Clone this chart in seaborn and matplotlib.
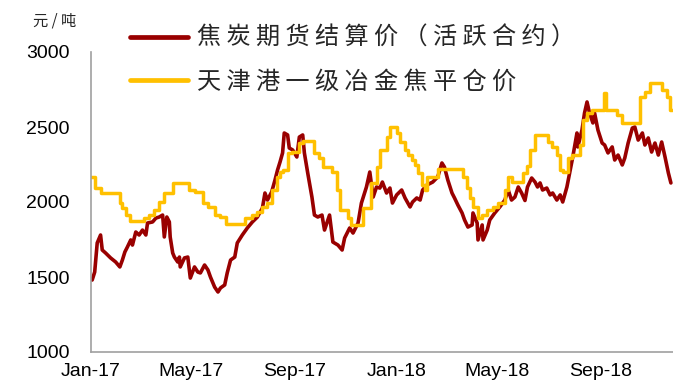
import pandas as pd
import matplotlib
matplotlib.use("Agg")
import matplotlib.pyplot as plt
import matplotlib.dates as mdates
import seaborn as sns

# 焦炭期货结算价（活跃合约），元/吨
futures_dates = [
    "2017-01-03", "2017-01-06", "2017-01-09", "2017-01-13", "2017-01-15", "2017-01-19",
    "2017-01-25", "2017-01-31", "2017-02-05", "2017-02-08", "2017-02-11", "2017-02-14",
    "2017-02-18", "2017-02-20", "2017-02-24", "2017-02-28", "2017-03-04", "2017-03-08",
    "2017-03-10", "2017-03-16", "2017-03-20", "2017-03-24", "2017-03-28", "2017-03-30",
    "2017-04-02", "2017-04-05", "2017-04-06", "2017-04-09", "2017-04-11", "2017-04-15",
    "2017-04-17", "2017-04-18", "2017-04-23", "2017-04-27", "2017-04-30", "2017-05-05",
    "2017-05-09", "2017-05-12", "2017-05-17", "2017-05-21", "2017-05-24", "2017-05-29",
    "2017-06-02", "2017-06-05", "2017-06-10", "2017-06-13", "2017-06-17", "2017-06-22",
    "2017-06-25", "2017-07-01", "2017-07-07", "2017-07-13", "2017-07-19", "2017-07-25",
    "2017-07-28", "2017-07-31", "2017-08-05", "2017-08-09", "2017-08-12", "2017-08-15",
    "2017-08-18", "2017-08-20", "2017-08-24", "2017-08-26", "2017-08-30", "2017-09-04",
    "2017-09-07", "2017-09-11", "2017-09-13", "2017-09-17", "2017-09-22", "2017-09-25",
    "2017-09-29", "2017-10-04", "2017-10-07", "2017-10-13", "2017-10-17", "2017-10-23",
    "2017-10-28", "2017-10-31", "2017-11-06", "2017-11-10", "2017-11-16", "2017-11-20",
    "2017-11-26", "2017-11-30", "2017-12-04", "2017-12-08", "2017-12-12", "2017-12-15",
    "2017-12-20", "2017-12-24", "2017-12-27", "2018-01-01", "2018-01-07", "2018-01-11",
    "2018-01-17", "2018-01-20", "2018-01-25", "2018-01-29", "2018-02-01", "2018-02-06",
    "2018-02-13", "2018-02-19", "2018-02-24", "2018-02-27", "2018-03-03", "2018-03-08",
    "2018-03-11", "2018-03-15", "2018-03-20", "2018-03-23", "2018-03-27", "2018-04-01",
    "2018-04-02", "2018-04-07", "2018-04-08", "2018-04-13", "2018-04-14", "2018-04-19",
    "2018-04-22", "2018-04-28", "2018-05-04", "2018-05-10", "2018-05-14", "2018-05-18",
    "2018-05-22", "2018-05-26", "2018-05-30", "2018-06-03", "2018-06-06", "2018-06-11",
    "2018-06-15", "2018-06-18", "2018-06-21", "2018-06-24", "2018-06-29", "2018-07-03",
    "2018-07-06", "2018-07-11", "2018-07-15", "2018-07-18", "2018-07-23", "2018-07-27",
    "2018-07-30", "2018-08-04", "2018-08-05", "2018-08-10", "2018-08-13", "2018-08-16",
    "2018-08-19", "2018-08-23", "2018-08-25", "2018-08-29", "2018-09-03", "2018-09-06",
    "2018-09-10", "2018-09-15", "2018-09-18", "2018-09-22", "2018-09-27", "2018-09-30",
    "2018-10-04", "2018-10-09", "2018-10-12", "2018-10-16", "2018-10-21", "2018-10-24",
    "2018-10-28", "2018-11-01", "2018-11-05", "2018-11-09", "2018-11-13", "2018-11-17",
    "2018-11-21", "2018-11-24",
]
futures_values = [
    1480, 1533, 1727, 1780, 1680, 1660,
    1627, 1600, 1567, 1613, 1667, 1700,
    1747, 1713, 1800, 1780, 1813, 1780,
    1860, 1867, 1893, 1900, 1913, 1767,
    1900, 1867, 1767, 1660, 1633, 1600,
    1633, 1567, 1627, 1633, 1493, 1567,
    1533, 1527, 1580, 1547, 1500, 1433,
    1400, 1427, 1447, 1527, 1613, 1633,
    1727, 1780, 1827, 1867, 1900, 1960,
    2060, 2013, 2067, 2147, 2213, 2267,
    2327, 2460, 2447, 2360, 2347, 2300,
    2433, 2447, 2327, 2193, 2033, 1913,
    1900, 1913, 1813, 1913, 1733, 1713,
    1680, 1760, 1827, 1793, 1860, 1993,
    2100, 2200, 2033, 2100, 2093, 2133,
    2060, 2093, 1993, 2047, 2080, 2027,
    1967, 2000, 2027, 2013, 2080, 2113,
    2133, 2167, 2260, 2233, 2147, 2060,
    2027, 1980, 1927, 1880, 1833, 1847,
    1927, 1860, 1747, 1847, 1747, 1813,
    1880, 1927, 1967, 2013, 2080, 2013,
    2033, 2100, 2060, 2010, 2100, 2160,
    2133, 2100, 2127, 2080, 2093, 2047,
    2060, 2013, 2047, 2000, 2100, 2213,
    2300, 2460, 2367, 2480, 2593, 2667,
    2593, 2527, 2593, 2480, 2393, 2380,
    2327, 2367, 2280, 2313, 2247, 2293,
    2393, 2493, 2500, 2413, 2460, 2380,
    2427, 2333, 2393, 2313, 2400, 2300,
    2193, 2127,
]

# 天津港一级冶金焦平仓价（报价变动日），元/吨
port_dates = [
    "2017-01-01", "2017-01-06", "2017-01-13", "2017-02-05", "2017-02-08", "2017-02-12",
    "2017-02-17", "2017-03-06", "2017-03-12", "2017-03-18", "2017-03-24", "2017-03-30",
    "2017-04-09", "2017-04-29", "2017-05-05", "2017-05-15", "2017-05-21", "2017-05-29",
    "2017-06-04", "2017-06-11", "2017-07-04", "2017-07-12", "2017-07-18", "2017-07-24",
    "2017-07-30", "2017-08-05", "2017-08-11", "2017-08-15", "2017-08-18", "2017-08-24",
    "2017-08-29", "2017-09-07", "2017-09-11", "2017-09-25", "2017-10-01", "2017-10-05",
    "2017-10-16", "2017-10-22", "2017-10-25", "2017-11-04", "2017-11-08", "2017-11-22",
    "2017-12-02", "2017-12-08", "2017-12-12", "2017-12-20", "2017-12-24", "2018-01-01",
    "2018-01-05", "2018-01-11", "2018-01-14", "2018-01-19", "2018-01-23", "2018-01-26",
    "2018-01-31", "2018-02-04", "2018-02-06", "2018-02-19", "2018-03-21", "2018-03-26",
    "2018-03-29", "2018-04-02", "2018-04-08", "2018-04-13", "2018-04-19", "2018-04-26",
    "2018-05-02", "2018-05-10", "2018-05-14", "2018-05-18", "2018-06-01", "2018-06-05",
    "2018-06-09", "2018-06-15", "2018-06-30", "2018-07-05", "2018-07-11", "2018-07-15",
    "2018-07-18", "2018-07-24", "2018-07-29", "2018-08-08", "2018-08-11", "2018-08-16",
    "2018-08-22", "2018-09-05", "2018-09-08", "2018-09-21", "2018-09-27", "2018-10-18",
    "2018-10-24", "2018-10-30", "2018-11-13", "2018-11-19", "2018-11-23", "2018-11-25",
]
port_values = [
    2167, 2093, 2060, 1993, 1960, 1913,
    1873, 1893, 1913, 1947, 2000, 2060,
    2127, 2080, 2067, 1993, 1967, 1913,
    1900, 1853, 1893, 1913, 1933, 1967,
    1993, 2080, 2167, 2200, 2213, 2327,
    2333, 2393, 2407, 2327, 2293, 2233,
    2200, 2080, 1947, 1893, 1847, 1960,
    2127, 2233, 2347, 2433, 2500, 2460,
    2400, 2347, 2313, 2280, 2247, 2193,
    2113, 2080, 2167, 2220, 2167, 2093,
    2027, 1967, 1893, 1913, 1947, 1967,
    1993, 2080, 2167, 2133, 2193, 2240,
    2347, 2447, 2400, 2367, 2313, 2213,
    2200, 2293, 2313, 2380, 2547, 2593,
    2613, 2727, 2613, 2580, 2527, 2700,
    2733, 2793, 2747, 2700, 2613, 2613,
]

series_names = ["焦炭期货结算价（活跃合约）", "天津港一级冶金焦平仓价"]
series_colors = ["#990000", "#FFC000"]
y_ticks = [1000, 1500, 2000, 2500, 3000]
unit_label = "元 / 吨"

futures = pd.DataFrame({"date": pd.to_datetime(futures_dates), "price": futures_values})
port = pd.DataFrame({"date": pd.to_datetime(port_dates), "price": port_values})

sns.set_style("white")
plt.rcParams["font.family"] = ["Liberation Sans", "Noto Sans CJK SC", "DejaVu Sans"]

fig = plt.figure(figsize=(6.73, 3.83), dpi=100)
ax = fig.add_axes([90.5 / 673, 1 - 352 / 383, 1 - 90.5 / 673, 300 / 383])

sns.lineplot(data=futures, x="date", y="price", ax=ax, color=series_colors[0],
             linewidth=2.6, label=series_names[0])
sns.lineplot(data=port, x="date", y="price", ax=ax, color=series_colors[1],
             linewidth=2.5, label=series_names[1], drawstyle="steps-post")

ax.set_xlim(pd.Timestamp("2017-01-01"), pd.Timestamp("2018-11-26 12:00"))
ax.set_ylim(1000, 3000)
ax.set_yticks(y_ticks)
ax.xaxis.set_major_locator(mdates.MonthLocator(bymonth=[1, 5, 9]))
ax.xaxis.set_major_formatter(mdates.DateFormatter("%b-%y"))
ax.set_xlabel("")
ax.set_ylabel("")

for side in ("top", "right"):
    ax.spines[side].set_visible(False)
for side in ("left", "bottom"):
    ax.spines[side].set_color("#A0A0A0")
    ax.spines[side].set_linewidth(1.2)
ax.tick_params(axis="both", which="major", direction="out", length=4,
               width=1.2, color="#A0A0A0", labelsize=14, labelcolor="black")
ax.tick_params(axis="y", pad=11)
ax.tick_params(axis="x", pad=4)

# legend with widened character spacing
leg = ax.legend(loc="upper left", bbox_to_anchor=(130 / 673, 1 - 25 / 383),
                bbox_transform=fig.transFigure, frameon=False, borderpad=0,
                borderaxespad=0, handlelength=2.4, handletextpad=0.37,
                labelspacing=0.72, prop={"family": ["Noto Sans CJK SC", "DejaVu Sans"], "size": 17.4})
for text, name in zip(leg.get_texts(), series_names):
    text.set_text(" ".join(name))
for line in leg.get_lines():
    line.set_linewidth(3.4)

fig.text(55 / 673, 1 - 21 / 383, unit_label, ha="center", va="center",
         fontsize=11, family=["Noto Sans CJK SC", "DejaVu Sans"])

fig.savefig("out.png", dpi=100)
